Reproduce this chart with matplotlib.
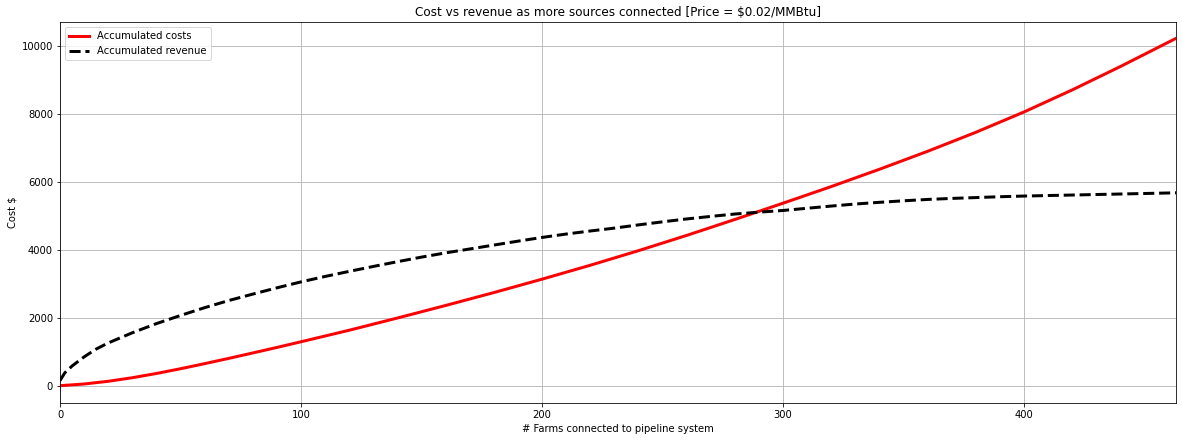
import numpy as np
import matplotlib
matplotlib.use('Agg')
import matplotlib.pyplot as plt

# values
cost_farms = [0, 10, 20, 30, 40, 50, 60, 70, 80, 90, 100, 120, 140, 160, 180,
              200, 220, 240, 260, 280, 300, 320, 340, 360, 380, 400, 420, 440, 463]
cost_values = [0, 50, 130, 235, 360, 500, 650, 805, 965, 1128, 1295, 1635, 1995,
               2365, 2745, 3140, 3550, 3980, 4430, 4900, 5380, 5870, 6380, 6910,
               7470, 8070, 8720, 9410, 10238]

rev_farms = [0, 2, 5, 10, 15, 20, 30, 40, 50, 60, 70, 80, 90, 100, 110, 120, 130,
             140, 150, 160, 170, 180, 190, 200, 210, 220, 230, 240, 250, 260, 270,
             280, 290, 300, 310, 320, 330, 340, 350, 360, 370, 380, 390, 400, 410,
             420, 430, 440, 450, 463]
rev_values = [150, 380, 580, 850, 1080, 1260, 1560, 1830, 2070, 2300, 2510, 2700,
              2885, 3060, 3220, 3370, 3515, 3655, 3790, 3915, 4030, 4145, 4260,
              4370, 4470, 4560, 4645, 4740, 4830, 4915, 4990, 5060, 5115, 5165,
              5230, 5295, 5355, 5405, 5450, 5490, 5520, 5545, 5570, 5590, 5605,
              5620, 5635, 5650, 5665, 5685]

W, H = 1182, 441
fig = plt.figure(figsize=(W / 72, H / 72), dpi=72)
ax = fig.add_axes([60 / W, 1 - 403 / H, (1176 - 60) / W, (403 - 22) / H])

ax.plot(cost_farms, cost_values, color='red', lw=3, label='Accumulated costs')
ax.plot(rev_farms, rev_values, color='black', lw=3, ls='--', label='Accumulated revenue')

ax.set_xlim(0, 463)
ax.set_ylim(-510, 10720)
ax.set_xticks([0, 100, 200, 300, 400])
ax.set_yticks([0, 2000, 4000, 6000, 8000, 10000])
ax.tick_params(labelsize=10)
ax.grid(True, color='#b0b0b0', lw=0.8)

ax.set_title('Cost vs revenue as more sources connected [Price = \\$0.02/MMBtu]', fontsize=12)
ax.set_xlabel('# Farms connected to pipeline system', fontsize=10)
ax.set_ylabel('Cost $', fontsize=10)
ax.legend(loc='upper left', fontsize=10)

fig.savefig('out.png', dpi=72)
